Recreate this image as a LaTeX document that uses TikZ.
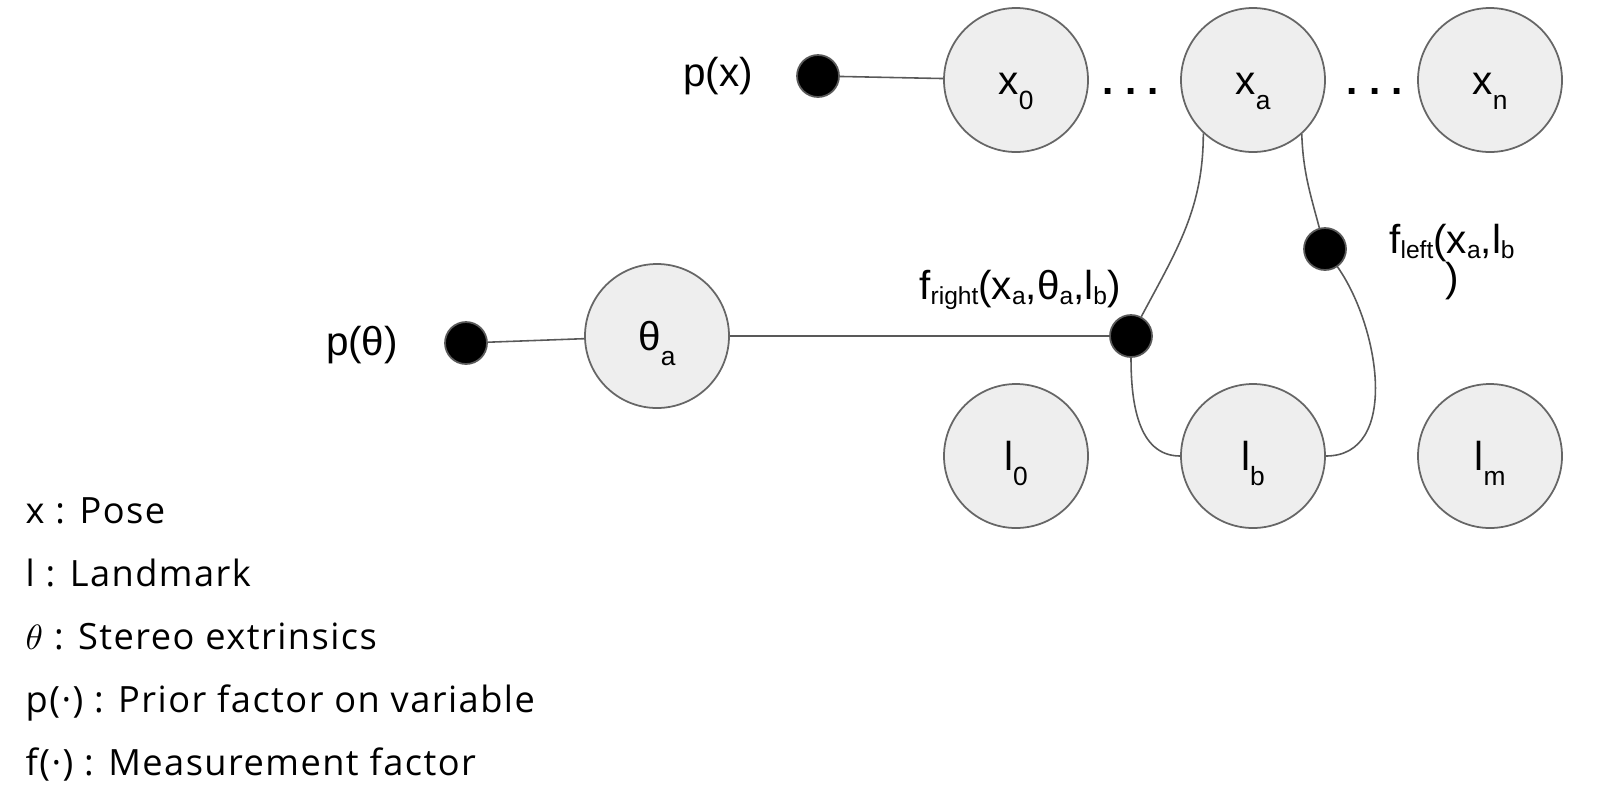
\documentclass[tikz,border=0pt]{standalone}
\usepackage{fontspec}
\setmainfont{Liberation Sans}
\newfontfamily\legendfont[LetterSpace=4]{Open Sans}
\usetikzlibrary{positioning}
\definecolor{varfill}{HTML}{EEEEEE}
\definecolor{varline}{HTML}{666666}
\definecolor{edgegray}{HTML}{595959}
\newcommand{\lsub}[1]{\raisebox{-1.5pt}{\fontsize{7}{8}\selectfont #1}}
\newcommand{\vsub}[1]{\raisebox{-4pt}{\fontsize{7.5}{8}\selectfont #1}}

\begin{document}
\begin{tikzpicture}[
  x=0.1mm, y=0.1mm,
  font=\fontsize{11.5}{14}\selectfont,
  varnode/.style={circle, draw=varline, fill=varfill, line width=0.5pt,
    minimum size=14.4mm, inner sep=0pt, text height=8.5pt, text depth=0pt},
  factornode/.style={circle, draw=edgegray, fill=black, line width=0.5pt,
    minimum size=4.2mm, inner sep=0pt},
  factoredge/.style={draw=edgegray, line width=0.45pt},
  legendtext/.style={anchor=base west, inner sep=0pt,
    font=\legendfont\fontsize{10.3}{12}\selectfont}
]
\useasboundingbox (0,0) rectangle (1624,-798);
% ---------------- poses ----------------
\node[varnode] (x0) at (1016,-80) {x\vsub{0}};
\node[varnode] (xa) at (1253,-80) {x\vsub{a}};
\node[varnode] (xn) at (1490,-80) {x\vsub{n}};
\node (dotsA) at (1131,-91) {\textbf{.\ .\ .}};
\node (dotsB) at (1375,-91) {\textbf{.\ .\ .}};
% ---------------- landmarks ----------------
\node[varnode] (l0) at (1016,-456) {l\vsub{0}};
\node[varnode] (lb) at (1253,-456) {l\vsub{b}};
\node[varnode] (lm) at (1490,-456) {l\vsub{m}};
% ---------------- extrinsics ----------------
\node[varnode] (th) at (657,-336) {θ\vsub{a}};
% ---------------- factors ----------------
\node[factornode] (px) at (818,-76) {};
\node (pxlabel) at (718,-76) {p(x)};
\node[factornode] (pth) at (466,-343) {};
\node (pthlabel) at (362,-345) {p(θ)};
\node[factornode] (fright) at (1131,-336) {};
\node (frightlabel) at (1020,-290) {f\lsub{right}(x\lsub{a},θ\lsub{a},l\lsub{b})};
\node[factornode] (fleft) at (1325,-249) {};
\node[align=center] (fleftlabel) at (1452,-262) {f\lsub{left}(x\lsub{a},l\lsub{b}\\[-3pt])};
\draw[factoredge] (px) -- (x0);
\draw[factoredge] (pth) -- (th);
\draw[factoredge] (th) -- (fright);
\draw[factoredge] (xa.227) to[out=-90,in=62] (fright);
\draw[factoredge] (fright) to[out=-90,in=180] (lb);
\draw[factoredge] (xa.-48) to[out=-88,in=105] (fleft);
\draw[factoredge] (fleft) to[out=-55,in=0] (lb);
% ---------------- legend ----------------
\node[legendtext] (legx) at (25,-523) {x : Pose};
\node[legendtext] (legl) at (25,-586) {l : Landmark};
\node[legendtext] (legth) at (25,-649) {$\theta$ : Stereo extrinsics};
\node[legendtext] (legp) at (25,-712) {p(·) : Prior factor on variable};
\node[legendtext] (legf) at (25,-775) {f(·) : Measurement factor};
\end{tikzpicture}
\end{document}
